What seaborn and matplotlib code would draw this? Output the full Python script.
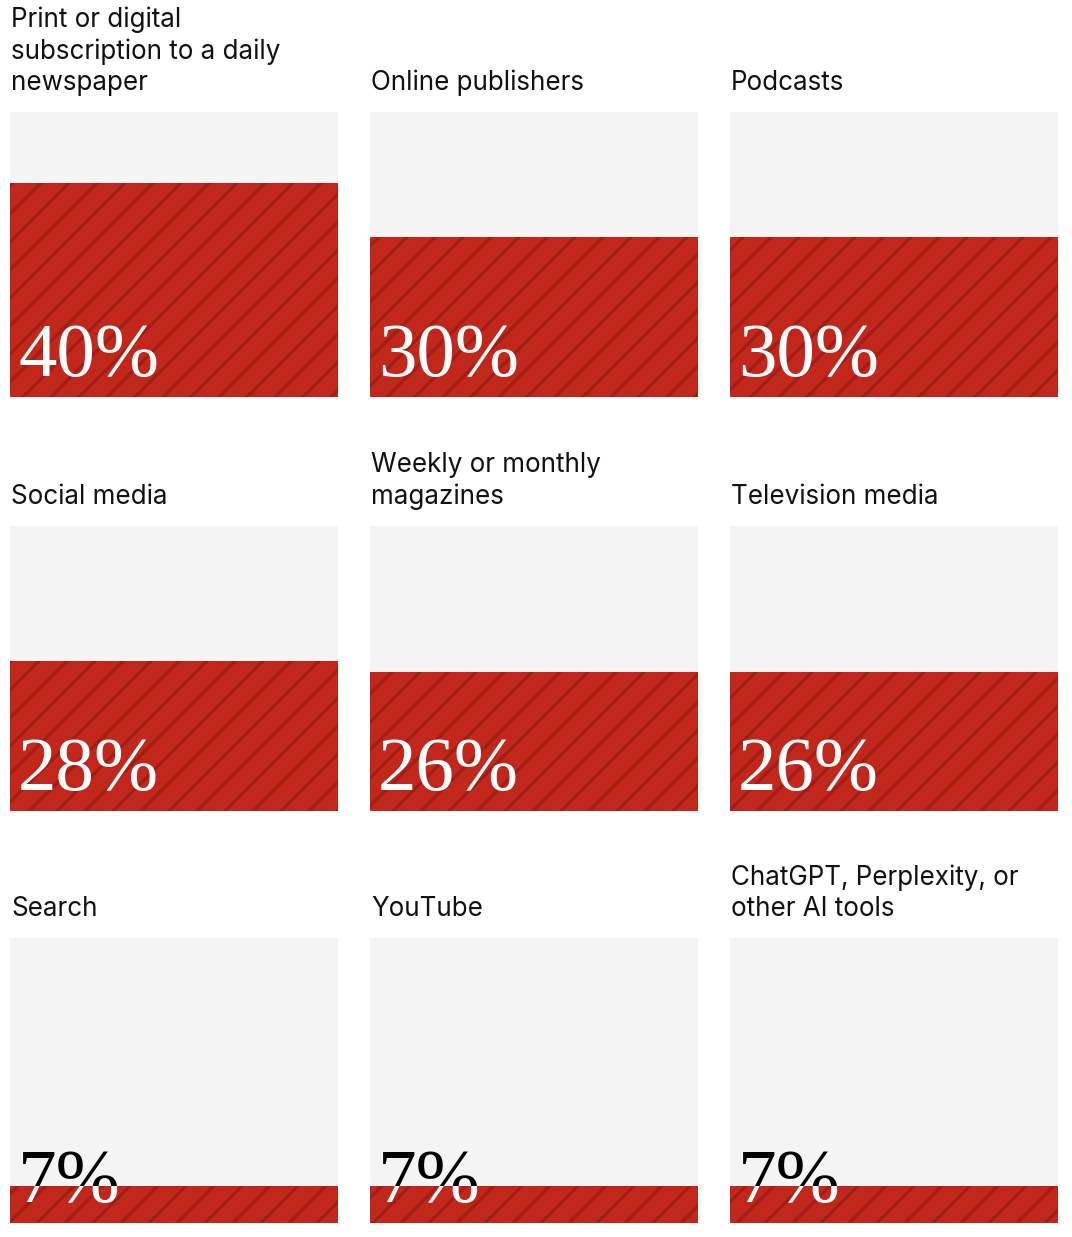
import seaborn as sns
import matplotlib.pyplot as plt
from matplotlib.patches import Rectangle

# data
labels = ['Print or digital\nsubscription to a daily\nnewspaper', 'Online publishers', 'Podcasts',
          'Social media', 'Weekly or monthly\nmagazines', 'Television media',
          'Search', 'YouTube', 'ChatGPT, Perplexity, or\nother AI tools']
values = [40, 30, 30, 28, 26, 26, 7, 7, 7]
y_max = 53.3

RED = '#c2271c'
HATCH = '#a01e15'
GREY = '#f4f4f4'

W, H, DPI = 1072, 1237, 168

sns.set_style('white')
plt.rcParams['font.family'] = ['Inter', 'DejaVu Sans']
plt.rcParams['hatch.linewidth'] = 1.4

fig = plt.figure(figsize=(W / DPI, H / DPI), dpi=DPI)
fig.patch.set_facecolor('white')

col_left = [10, 370, 730]
row_bottom = [397, 811, 1223]
panel_w, panel_h = 328, 285

def px(v):
    # pixels -> points
    return v / DPI * 72

for i, (lab, val) in enumerate(zip(labels, values)):
    r, c = divmod(i, 3)
    left = col_left[c] / W
    bottom = 1 - row_bottom[r] / H
    ax = fig.add_axes([left, bottom, panel_w / W, panel_h / H])
    ax.set_facecolor(GREY)

    sns.barplot(x=[lab], y=[val], ax=ax, width=1, color=RED, saturation=1,
                hatch='//', edgecolor=HATCH, linewidth=0)
    ax.set_xlim(-0.5, 0.5)
    ax.set_ylim(0, y_max)
    ax.set_xticks([])
    ax.set_yticks([])
    ax.set_xlabel('')
    ax.set_ylabel('')
    for s in ax.spines.values():
        s.set_visible(False)

    bar = ax.patches[0]

    # big percentage, white on the bar and black on the grey above it
    tx = 8 / panel_w
    ty = 21 / panel_h
    txt_kw = dict(transform=ax.transAxes, ha='left', va='baseline', clip_on=True,
                  fontsize=px(77), family='Liberation Serif')
    t_white = ax.text(tx, ty, f'{val}%', color='white', **txt_kw)
    t_white.set_clip_path(bar)
    top_rect = Rectangle((-0.5, val), 1, y_max - val, transform=ax.transData,
                         facecolor='none', edgecolor='none')
    ax.add_patch(top_rect)
    t_black = ax.text(tx, ty, f'{val}%', color='black', **txt_kw)
    t_black.set_clip_path(top_rect)

    # category label above the panel
    fig.text((col_left[c] + 1) / W, 1 - (row_bottom[r] - panel_h - 22) / H, lab,
             ha='left', va='baseline', fontsize=px(26), color='#111111',
             linespacing=1.25)

fig.savefig('out.png', dpi=DPI, facecolor='white')
